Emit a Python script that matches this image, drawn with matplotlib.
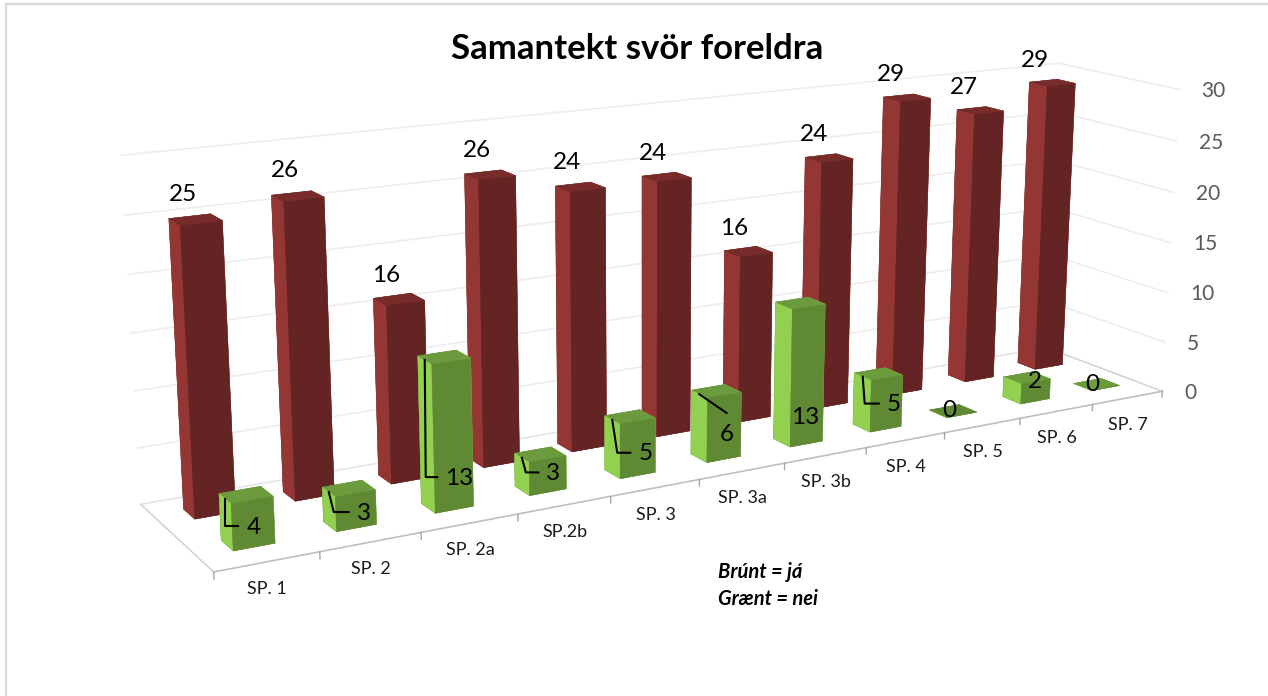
import numpy as np
import matplotlib
matplotlib.use("Agg")
import matplotlib.pyplot as plt
from matplotlib.lines import Line2D
from mpl_toolkits.mplot3d import proj3d

W, H = 1268, 696
plt.rcParams['font.family'] = ['Lato', 'DejaVu Sans']

categories = ['SP. 1', 'SP. 2', 'SP. 2a', 'SP.2b', 'SP. 3', 'SP. 3a', 'SP. 3b', 'SP. 4', 'SP. 5', 'SP. 6', 'SP. 7']
ja = [25, 26, 16, 26, 24, 24, 16, 24, 29, 27, 29]
nei = [4, 3, 13, 3, 5, 6, 13, 5, 0, 2, 0]
z_ticks = [0, 5, 10, 15, 20, 25, 30]

# camera, fitted against the floor corners and tick marks of the picture
ELEV, AZIM, ROLL, FOCAL, BOX_X, BOX_Y = 14.4272, -120.7566, -0.3039, 0.3934, 3.2407, 0.5991
S, TX, TY = 6038.827, 691.379, 284.437

# bar shape in axis units
RED_X, GREEN_X, BAR_DX = 0.31, 0.33, 0.40
GREEN_Y, GREEN_DY = 0.40, 0.31
RED_Y, RED_DY = 1.36, 0.31

# face order of bar3d: -z, +z, -y, +y, -x, +x
RED_FACES = ['#632423', '#772c2a', '#632423', '#632423', '#943634', '#943634']
GREEN_FACES = ['#5f8a33', '#6b9b3c', '#5f8a33', '#5f8a33', '#92d050', '#92d050']

fig = plt.figure(figsize=(W / 100, H / 100), dpi=100)
ax = fig.add_axes([0, 0, 1, 1], projection='3d')
ax.computed_zorder = False
ax.view_init(elev=ELEV, azim=AZIM, roll=ROLL)
ax.set_proj_type('persp', focal_length=FOCAL)
ax.set_box_aspect((BOX_X, BOX_Y, 1.0))
vl = ax.viewLim
left, right = TX + S * vl.x0, TX + S * vl.x1
bottom, top = TY - S * vl.y0, TY - S * vl.y1
ax.set_position([left / W, 1 - bottom / H, (right - left) / W, (bottom - top) / H])
ax.set_axis_off()

n = len(categories)

for i in range(n):
    ax.bar3d(i + RED_X, RED_Y, 0, BAR_DX, RED_DY, ja[i], color=RED_FACES, edgecolor=RED_FACES,
             linewidth=0.3, shade=False, zorder=2)
    ax.bar3d(i + GREEN_X, GREEN_Y, 0, BAR_DX, GREEN_DY, nei[i], color=GREEN_FACES, edgecolor=GREEN_FACES,
             linewidth=0.3, shade=False, zorder=3)

ax.set_xlim(0, n)
ax.set_ylim(0, 2)
ax.set_zlim(0, 30)

for z in z_ticks[1:]:
    ax.plot([0, n, n], [2, 2, 0], [z, z, z], color='#eeeeee', lw=1.3, clip_on=False, zorder=1)
ax.plot([0, n], [2, 2], [0, 0], color='#e6e6e6', lw=1.2, clip_on=False, zorder=1)
ax.plot([0, 0], [2, 0], [0, 0], color='#d4d4d4', lw=1.2, clip_on=False, zorder=1)
ax.plot([n, n], [2, 0], [0, 0], color='#d4d4d4', lw=1.2, clip_on=False, zorder=1)
ax.plot([0, n], [0, 0], [0, 0], color='#bfbfbf', lw=1.2, clip_on=False, zorder=1)
for i in range(n + 1):
    ax.plot([i, i], [0, 0], [0, -0.6], color='#a6a6a6', lw=1.0, clip_on=False, zorder=1)

M = ax.get_proj()


def to_px(x, y, z):
    u, v, _ = proj3d.proj_transform(x, y, z, M)
    return S * u + TX, TY - S * v


def px_text(x, y, s, **kw):
    fig.text(x / W, 1 - y / H, s, **kw)


def px_line(xs, ys):
    fig.add_artist(Line2D(np.array(xs) / W, 1 - np.array(ys) / H, color='black', lw=1.5))


# frame of the slide
fig.add_artist(Line2D([6 / W, 6 / W, 1], [0, 1 - 4 / H, 1 - 4 / H], color='#d9d9d9', lw=1.6))

px_text(637, 49, 'Samantekt svör foreldra', fontsize=25, fontweight='bold', ha='center', va='center', color='black')

for z in z_ticks:
    x, y = to_px(n, 0, z)
    px_text(x + 22, y + 1.5, str(z), fontsize=15, ha='left', va='center', color='#595959')

for i, name in enumerate(categories):
    x, y = to_px(i + 0.5, 0, 0)
    px_text(x, y + 27, name, fontsize=13, ha='center', va='center', color='#1a1a1a')

for i, v in enumerate(ja):
    x, y = to_px(i + RED_X, RED_Y, v)
    px_text(x + 3 - 1.5 * i, y - 31 + 0.5 * i, str(v), fontsize=17.5, ha='center', va='center', color='black')

# label placement of the green bars: lift in axis units, shift in pixels
label_lift = [1.7, 1.3, 2.8, 1.7, 2.0, 2.3, 2.5, 2.4, 0.4, 2.0, 0.4]
label_shift = [0, 7.5, 5.5, 5.5, 7.5, 2.5, -1.5, 7.5, -12.5, -1.5, -13.5]
# leader lines of the green labels: elbow shift in pixels, None = no elbow
leader_lean = [0, 5, 1, 4, 5, 'diag', None, 2, None, None, None]
for i, v in enumerate(nei):
    x, y = to_px(i + GREEN_X + BAR_DX / 2, GREEN_Y, label_lift[i])
    x += label_shift[i]
    px_text(x, y, str(v), fontsize=17.5, ha='center', va='center', color='black')
    lean = leader_lean[i]
    if lean is None:
        continue
    sx, sy = to_px(i + GREEN_X, GREEN_Y + GREEN_DY / 2, v)
    if lean == 'diag':
        px_line([sx, x], [sy, y - 22])
    else:
        gap = 22 if v >= 10 else 15
        px_line([sx, sx + lean, x - gap], [sy, y - 1, y - 1])

px_text(718, 572, 'Brúnt = já', fontsize=14.5, fontweight='bold', fontstyle='italic', ha='left', va='center', color='black')
px_text(718, 599, 'Grænt = nei', fontsize=14.5, fontweight='bold', fontstyle='italic', ha='left', va='center', color='black')

fig.savefig('out.png', dpi=100)
